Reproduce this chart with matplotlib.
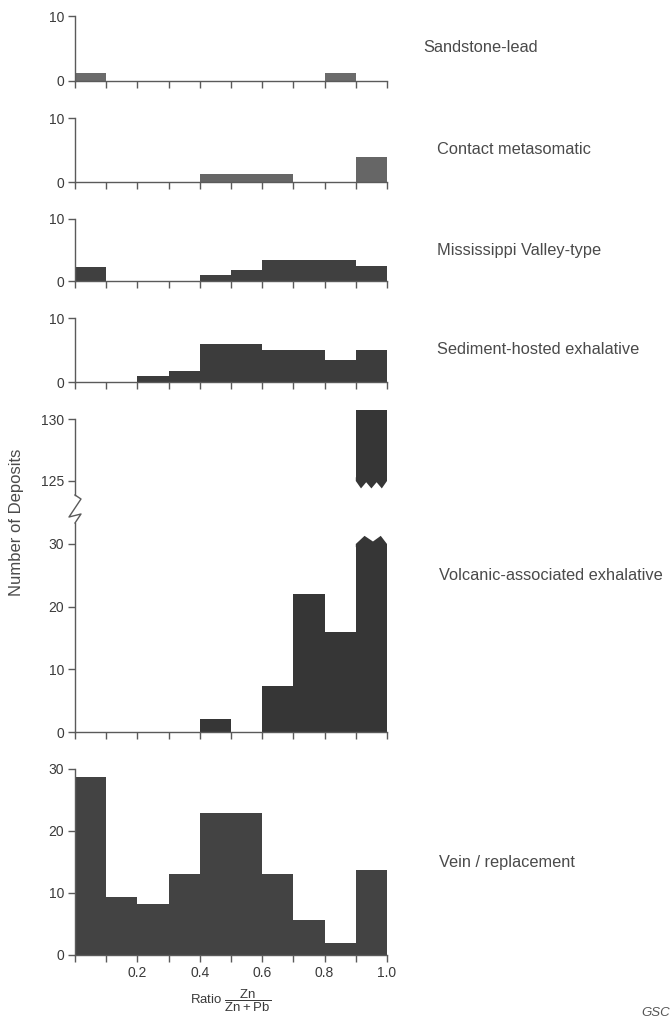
import matplotlib
matplotlib.use("Agg")
import matplotlib.pyplot as plt
import numpy as np
from matplotlib.lines import Line2D

plt.rcParams['font.family'] = ['Liberation Sans', 'DejaVu Sans']
plt.rcParams['mathtext.fontset'] = 'custom'
plt.rcParams['mathtext.rm'] = 'Liberation Sans'

# datos (histogramas por intervalos de 0.1 en Zn/(Zn+Pb))
bin_edges = [0.0, 0.1, 0.2, 0.3, 0.4, 0.5, 0.6, 0.7, 0.8, 0.9, 1.0]
sandstone = [1.3, 0, 0, 0, 0, 0, 0, 0, 1.3, 0]
contact = [0, 0, 0, 0, 1.3, 1.3, 1.3, 0, 0, 3.9]
mvt = [2.2, 0, 0, 0, 0.9, 1.8, 3.4, 3.4, 3.4, 2.4]
sedex = [0, 0, 0.9, 1.7, 5.9, 5.9, 5.0, 5.0, 3.4, 5.05]
vae = [0, 0, 0, 0, 2.0, 0, 7.4, 22.0, 16.0, 130.7]
vein = [28.7, 9.4, 8.2, 13.1, 22.9, 22.9, 13.1, 5.6, 1.9, 13.7]
vae_break = (30, 125)

labels = ["Sandstone-lead", "Contact metasomatic", "Mississippi Valley-type",
          "Sediment-hosted exhalative", "Volcanic-associated exhalative",
          "Vein / replacement"]
xtick_labels = ["", "", "0.2", "", "0.4", "", "0.6", "", "0.8", "", "1.0"]

W, H = 670, 1018
X0, X1 = 75, 387
GRIS = '#5a5a5a'
TXT = '#3a3a3a'
LAB = '#4a4a4a'
FS_LAB = 11.8

fig = plt.figure(figsize=(W / 100, H / 100), dpi=100)


def nuevo_eje(top, bottom):
    ax = fig.add_axes([X0 / W, 1 - bottom / H, (X1 - X0) / W, (bottom - top) / H])
    for s in ['top', 'right']:
        ax.spines[s].set_visible(False)
    for s in ['left', 'bottom']:
        ax.spines[s].set_color(GRIS)
        ax.spines[s].set_linewidth(1.0)
    ax.set_xlim(0, 1)
    ax.set_xticks(bin_edges)
    ax.set_xticklabels([])
    ax.tick_params(direction='out', length=5, width=1.0, color=GRIS,
                   labelsize=10, labelcolor=TXT, pad=3)
    ax.patch.set_alpha(0)
    return ax


def barras(ax, valores, color, tope=None):
    v = np.array(valores, dtype=float)
    if tope is not None:
        v = np.minimum(v, tope)
    ax.bar(bin_edges[:-1], v, width=0.1, align='edge', color=color,
           edgecolor='none', linewidth=0)


# paneles pequeños (0-10)
pos_small = [(16, 81), (118, 182), (219, 281), (318, 382)]
datos_small = [sandstone, contact, mvt, sedex]
colores = ['#6b6b6b', '#666666', '#404040', '#3c3c3c']
y_lab = [47, 149, 250, 350]
x_lab = [423, 437, 437, 437]
for (t, b), d, c, yl, xl, lab in zip(pos_small, datos_small, colores, y_lab, x_lab, labels[:4]):
    ax = nuevo_eje(t, b)
    ax.set_ylim(0, 10)
    ax.set_yticks([0, 10])
    barras(ax, d, c)
    fig.text(xl / W, 1 - yl / H, lab, fontsize=FS_LAB, color=LAB, va='center')

# panel volcanico con eje roto
w = 0.1
i_alto = int(np.argmax(vae))
xa = bin_edges[i_alto]
ax_up = nuevo_eje(410, 495)
ax_up.set_ylim(123.87, 130.73)
ax_up.set_yticks([125, 130])
ax_up.spines['bottom'].set_visible(False)
ax_up.tick_params(axis='x', bottom=False)
ax_up.spines['left'].set_bounds(123.87, 130)
ax_up.bar([xa], [vae[i_alto] - vae_break[1]], bottom=vae_break[1], width=w,
          align='edge', color='#363636', linewidth=0)
# dientes inferiores del tramo superior
fx = np.array([0, 1 / 6, 2 / 6, 3 / 6, 4 / 6, 5 / 6, 1])
fy = np.array([0, -0.6, -0.1, -0.6, -0.1, -0.6, 0])
ax_up.fill(np.r_[xa + fx * w, xa + w, xa], np.r_[vae_break[1] + fy, vae_break[1] + 0.3, vae_break[1] + 0.3],
           color='#363636', linewidth=0)

ax_lo = nuevo_eje(523, 732)
ax_lo.set_ylim(0, 33.35)
ax_lo.set_yticks([0, 10, 20, 30])
barras(ax_lo, vae, '#363636', tope=vae_break[0])
gx = np.array([0, 0.28, 0.55, 0.8, 1.0])
gy = np.array([0.0, 1.3, 0.4, 1.3, 0.0])
ax_lo.fill(np.r_[xa + gx * w, xa + w, xa], np.r_[vae_break[0] + gy, vae_break[0] - 0.5, vae_break[0] - 0.5],
           color='#363636', linewidth=0)

# zigzag del eje y entre los dos tramos
zx = np.array([0, 6, -6, 6, 0]) + X0
zy = np.array([495, 499, 517, 514, 523])
fig.add_artist(Line2D(zx / W, 1 - zy / H, color=GRIS, lw=1.0))
fig.text(439 / W, 1 - 575 / H, labels[4], fontsize=FS_LAB, color=LAB, va='center')

# panel de filones
ax6 = nuevo_eje(769, 955)
ax6.set_ylim(0, 30)
ax6.set_yticks([0, 10, 20, 30])
barras(ax6, vein, '#434343')
ax6.set_xticklabels(xtick_labels)
fig.text(439 / W, 1 - 863 / H, labels[5], fontsize=FS_LAB, color=LAB, va='center')

fig.text(190 / W, 1 - 1001 / H, r'Ratio $\dfrac{\mathrm{Zn}}{\mathrm{Zn + Pb}}$',
         fontsize=9.5, color=TXT, va='center')
fig.text(17 / W, 1 - 522 / H, 'Number of Deposits', rotation=90, fontsize=12,
         color=LAB, va='center', ha='center')
fig.text(641 / W, 1 - 1013 / H, 'GSC', fontsize=9.5, style='italic',
         color='#555555', va='center')

fig.savefig('out.png', dpi=100)
